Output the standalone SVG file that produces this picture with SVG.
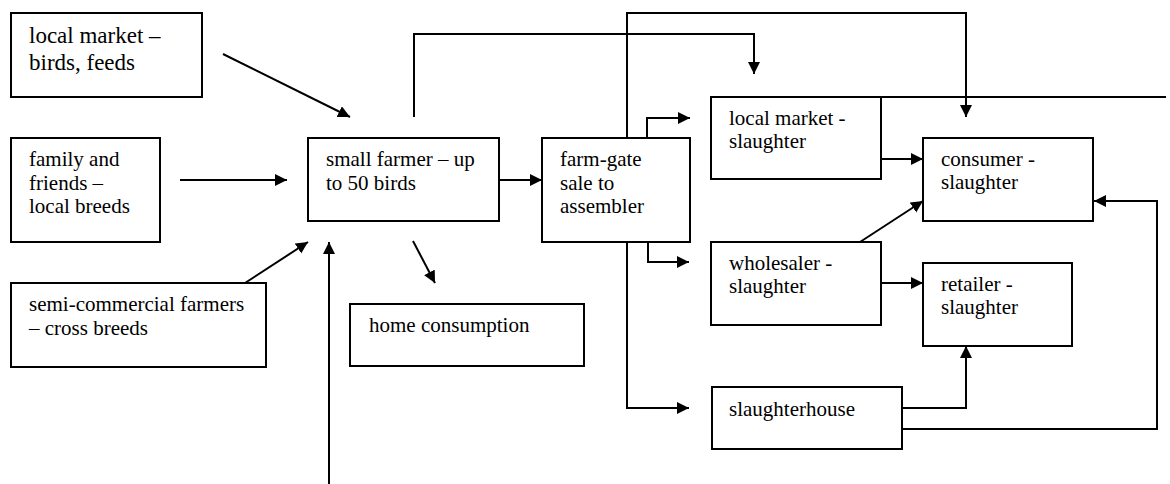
<svg xmlns="http://www.w3.org/2000/svg" width="1170" height="484" viewBox="0 0 1170 484">
  <style>
    .box { fill: #ffffff; stroke: #000000; stroke-width: 2; }
    text { font-family: 'Liberation Serif', 'Times New Roman', serif; font-size: 21px; fill: #000000; }
    text.big { font-size: 23px; }
    .link { fill: none; stroke: #000000; stroke-width: 2; }
    .arrow { marker-end: url(#head); }
  </style>
  <defs>
    <marker id="head" markerUnits="userSpaceOnUse" markerWidth="14" markerHeight="14" refX="12" refY="6" orient="auto">
      <path d="M0,0 L12,6 L0,12 Z" fill="#000000"/>
    </marker>
  </defs>

  <rect width="1170" height="484" fill="#ffffff"/>

  <!-- connectors -->
  <g id="connectors">
    <path class="link arrow" d="M223,54 L350,117"/>
    <path class="link arrow" d="M180,180 L287,180"/>
    <path class="link arrow" d="M245,283 L308,242"/>
    <path class="link arrow" d="M329,484 L329,242"/>
    <path class="link arrow" d="M413,241 L435,283"/>
    <path class="link arrow" d="M499,180 L542,180"/>
    <path class="link arrow" d="M414,117 L414,34 L754,34 L754,74"/>
    <path class="link arrow" d="M627,138 L627,13 L966,13 L966,117"/>
    <path class="link arrow" d="M647,138 L647,118 L690,118"/>
    <path class="link arrow" d="M648,242 L648,262 L689,262"/>
    <path class="link arrow" d="M627,242 L627,408 L689,408"/>
    <path class="link arrow" d="M881,159 L923,159"/>
    <path class="link arrow" d="M860,242 L923,201"/>
    <path class="link arrow" d="M881,283 L923,283"/>
    <path class="link arrow" d="M902,408 L966,408 L966,346"/>
    <path class="link arrow" d="M902,429 L1157,429 L1157,201 L1094,201"/>
    <path class="link" d="M881,97 L1166,97"/>
  </g>

  <!-- nodes -->
  <g id="local-market-birds">
    <rect class="box" x="11" y="13" width="191" height="84"/>
    <text class="big" x="29" y="43">local market –</text>
    <text class="big" x="29" y="70">birds, feeds</text>
  </g>

  <g id="family-friends">
    <rect class="box" x="11" y="138" width="149" height="104"/>
    <text x="29" y="166">family and</text>
    <text x="29" y="190">friends –</text>
    <text x="29" y="213">local breeds</text>
  </g>

  <g id="semi-commercial">
    <rect class="box" x="11" y="283" width="255" height="84"/>
    <text x="29" y="311">semi-commercial farmers</text>
    <text x="29" y="335">– cross breeds</text>
  </g>

  <g id="small-farmer">
    <rect class="box" x="308" y="138" width="191" height="83"/>
    <text x="326" y="166">small farmer – up</text>
    <text x="326" y="190">to 50 birds</text>
  </g>

  <g id="home-consumption">
    <rect class="box" x="350" y="304" width="234" height="62"/>
    <text x="369" y="332">home consumption</text>
  </g>

  <g id="farm-gate">
    <rect class="box" x="542" y="138" width="148" height="104"/>
    <text x="560" y="166">farm-gate</text>
    <text x="560" y="190">sale to</text>
    <text x="560" y="213">assembler</text>
  </g>

  <g id="local-market-slaughter">
    <rect class="box" x="711" y="97" width="170" height="82"/>
    <text x="729" y="125">local market -</text>
    <text x="729" y="148">slaughter</text>
  </g>

  <g id="consumer">
    <rect class="box" x="923" y="138" width="170" height="83"/>
    <text x="941" y="166">consumer -</text>
    <text x="941" y="189">slaughter</text>
  </g>

  <g id="wholesaler">
    <rect class="box" x="711" y="242" width="170" height="83"/>
    <text x="729" y="270">wholesaler -</text>
    <text x="729" y="293">slaughter</text>
  </g>

  <g id="retailer">
    <rect class="box" x="923" y="263" width="149" height="83"/>
    <text x="941" y="291">retailer -</text>
    <text x="941" y="314">slaughter</text>
  </g>

  <g id="slaughterhouse">
    <rect class="box" x="712" y="387" width="190" height="62"/>
    <text x="729" y="416">slaughterhouse</text>
  </g>
</svg>
